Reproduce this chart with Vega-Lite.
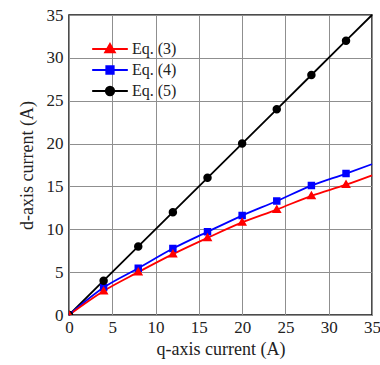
{
  "$schema": "https://vega.github.io/schema/vega-lite/v6.json",
  "width": 303,
  "height": 300,
  "autosize": "none",
  "padding": {"left": 69, "top": 15, "right": 8, "bottom": 50},
  "background": "white",
  "config": {
    "font": "Times New Roman",
    "view": {"stroke": "#111111", "strokeWidth": 1.5},
    "style": {"guide-label": {"font": "Times New Roman"}, "guide-title": {"font": "Times New Roman"}},
    "axis": {
      "grid": true,
      "gridColor": "#8f8f8f",
      "gridWidth": 1,
      "gridOpacity": 1,
      "ticks": false,
      "domain": false,
      "labelFont": "Times New Roman",
      "labelFontSize": 17,
      "labelColor": "#222222",
      "titleFont": "Times New Roman",
      "titleFontSize": 18,
      "titleFontWeight": "normal",
      "titleColor": "#222222",
      "labelFlush": false
    },
    "legend": {
      "labelFont": "Times New Roman",
      "labelFontSize": 16,
      "labelColor": "#222222"
    }
  },
  "data": {
    "values": [
      {"series": "Eq. (4)", "q": 0, "d": 0},
      {"series": "Eq. (4)", "q": 4, "d": 3.2},
      {"series": "Eq. (4)", "q": 8, "d": 5.45},
      {"series": "Eq. (4)", "q": 12, "d": 7.75},
      {"series": "Eq. (4)", "q": 16, "d": 9.7},
      {"series": "Eq. (4)", "q": 20, "d": 11.6},
      {"series": "Eq. (4)", "q": 24, "d": 13.3},
      {"series": "Eq. (4)", "q": 28, "d": 15.1},
      {"series": "Eq. (4)", "q": 32, "d": 16.5},
      {"series": "Eq. (4)", "q": 35, "d": 17.6},
      {"series": "Eq. (5)", "q": 0, "d": 0},
      {"series": "Eq. (5)", "q": 4, "d": 4},
      {"series": "Eq. (5)", "q": 8, "d": 8},
      {"series": "Eq. (5)", "q": 12, "d": 12},
      {"series": "Eq. (5)", "q": 16, "d": 16},
      {"series": "Eq. (5)", "q": 20, "d": 20},
      {"series": "Eq. (5)", "q": 24, "d": 24},
      {"series": "Eq. (5)", "q": 28, "d": 28},
      {"series": "Eq. (5)", "q": 32, "d": 32},
      {"series": "Eq. (5)", "q": 35, "d": 35},
      {"series": "Eq. (3)", "q": 0, "d": 0},
      {"series": "Eq. (3)", "q": 4, "d": 2.8},
      {"series": "Eq. (3)", "q": 8, "d": 5.0},
      {"series": "Eq. (3)", "q": 12, "d": 7.1},
      {"series": "Eq. (3)", "q": 16, "d": 9.0},
      {"series": "Eq. (3)", "q": 20, "d": 10.8},
      {"series": "Eq. (3)", "q": 24, "d": 12.3},
      {"series": "Eq. (3)", "q": 28, "d": 13.9},
      {"series": "Eq. (3)", "q": 32, "d": 15.2},
      {"series": "Eq. (3)", "q": 35, "d": 16.3}
    ]
  },
  "encoding": {
    "x": {
      "field": "q", "type": "quantitative",
      "scale": {"domain": [0, 35], "nice": false},
      "axis": {"values": [0, 5, 10, 15, 20, 25, 30, 35], "title": "q-axis current (A)", "labelFont": "Times New Roman", "labelPadding": 4, "titlePadding": 5}
    },
    "y": {
      "field": "d", "type": "quantitative",
      "scale": {"domain": [0, 35], "nice": false},
      "axis": {"values": [0, 5, 10, 15, 20, 25, 30, 35], "title": "d-axis current (A)", "labelFont": "Times New Roman", "labelPadding": 6, "titlePadding": 10}
    }
  },
  "layer": [
    {
      "transform": [{"filter": "datum.series == 'Eq. (5)'"}],
      "mark": {"type": "line", "strokeWidth": 1.8, "color": "#000000"},
      "encoding": {}
    },
    {
      "transform": [{"filter": "datum.series == 'Eq. (4)'"}],
      "mark": {"type": "line", "strokeWidth": 1.8, "color": "#0000ff", "interpolate": "monotone"},
      "encoding": {}
    },
    {
      "transform": [{"filter": "datum.series == 'Eq. (3)'"}],
      "mark": {"type": "line", "strokeWidth": 1.8, "color": "#ff0000", "interpolate": "monotone"},
      "encoding": {}
    },
    {
      "transform": [{"filter": "datum.q < 35"}],
      "mark": {"type": "point", "filled": true, "opacity": 1, "size": 72, "strokeWidth": 0, "clip": true},
      "encoding": {
        "color": {
          "field": "series", "type": "nominal",
          "scale": {"domain": ["Eq. (3)", "Eq. (4)", "Eq. (5)"], "range": ["#ff0000", "#0000ff", "#000000"]},
          "legend": {
            "title": null,
            "orient": "none",
            "legendX": 19,
            "legendY": 26,
            "symbolSize": 72,
            "symbolStrokeWidth": 1.8,
            "symbolOffset": 14,
            "labelOffset": 14,
            "rowPadding": 5,
            "labelFont": "Times New Roman"
          }
        },
        "stroke": {
          "field": "series", "type": "nominal",
          "scale": {"domain": ["Eq. (3)", "Eq. (4)", "Eq. (5)"], "range": ["#ff0000", "#0000ff", "#000000"]},
          "legend": {
            "title": null,
            "orient": "none",
            "legendX": 19,
            "legendY": 26,
            "symbolSize": 72,
            "symbolStrokeWidth": 1.8,
            "symbolOffset": 14,
            "labelOffset": 14,
            "rowPadding": 5,
            "labelFont": "Times New Roman"
          }
        },
        "shape": {
          "field": "series", "type": "nominal",
          "scale": {
            "domain": ["Eq. (3)", "Eq. (4)", "Eq. (5)"],
            "range": [
              "M-4.2,0H4.2M0,-1.2L1.15,0.8L-1.15,0.8Z",
              "M-4.2,0H4.2M-0.88,-0.88H0.88V0.88H-0.88Z",
              "M-4.2,0H4.2M1,0A1,1,0,1,1,-1,0A1,1,0,1,1,1,0Z"
            ]
          },
          "legend": {
            "title": null,
            "orient": "none",
            "legendX": 19,
            "legendY": 26,
            "symbolSize": 72,
            "symbolStrokeWidth": 1.8,
            "symbolOffset": 14,
            "labelOffset": 14,
            "rowPadding": 5,
            "labelFont": "Times New Roman"
          }
        }
      }
    }
  ]
}
